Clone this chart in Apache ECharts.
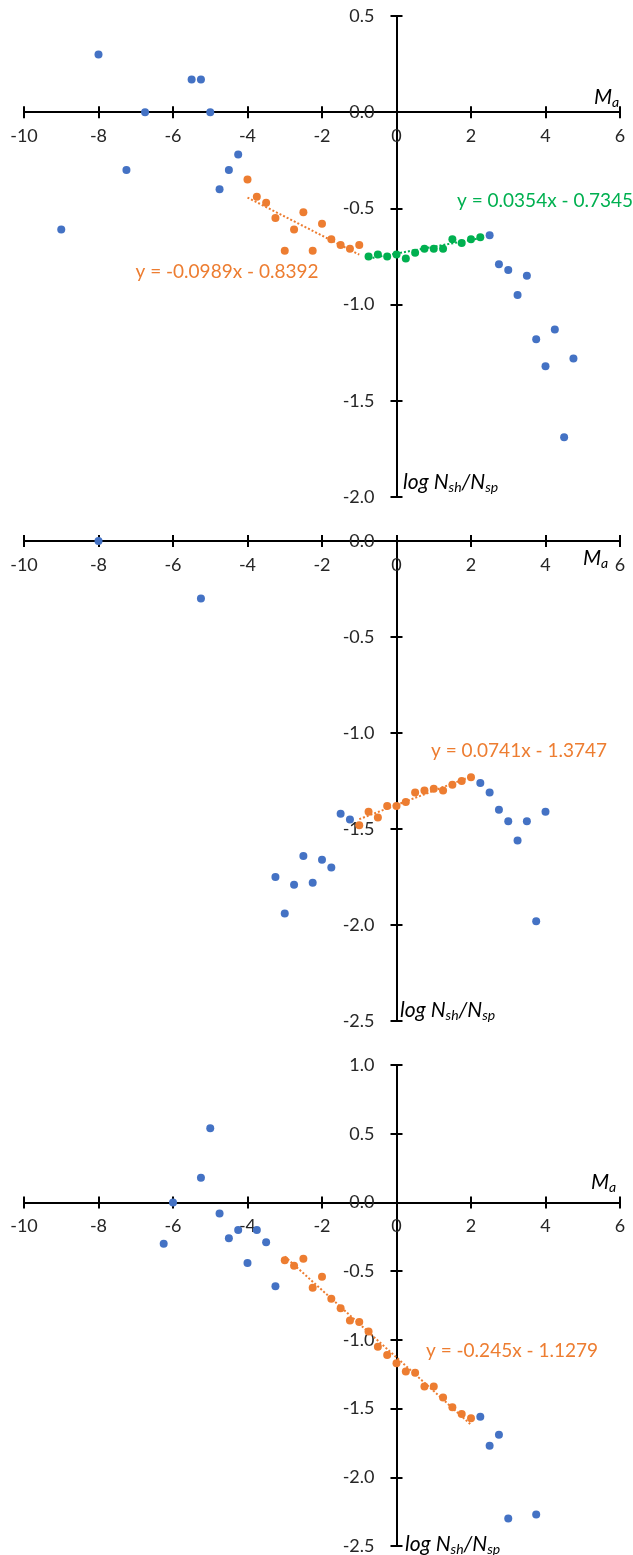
<!DOCTYPE html>
<html>
<head>
<meta charset="utf-8">
<script src="https://cdn.jsdelivr.net/npm/echarts@6/dist/echarts.min.js"></script>
<style>
  html, body { margin: 0; padding: 0; background: #ffffff; }
  #chart { width: 633px; height: 1555px; }
</style>
</head>
<body>
<div id="chart"></div>
<script>
// ---- Data: [Ma, log Nsh/Nsp] pairs for each panel ----
const p1Blue = [[-9, -0.61], [-8, 0.30], [-7.25, -0.30], [-6.75, 0.0], [-5.5, 0.17], [-5.25, 0.17], [-5, 0.0],
  [-4.75, -0.40], [-4.5, -0.30], [-4.25, -0.22], [2.5, -0.64], [2.75, -0.79], [3, -0.82], [3.25, -0.95],
  [3.5, -0.85], [3.75, -1.18], [4, -1.32], [4.25, -1.13], [4.5, -1.69], [4.75, -1.28]];
const p1Orange = [[-4, -0.35], [-3.75, -0.44], [-3.5, -0.47], [-3.25, -0.55], [-3, -0.72], [-2.75, -0.61],
  [-2.5, -0.52], [-2.25, -0.72], [-2, -0.58], [-1.75, -0.66], [-1.5, -0.69], [-1.25, -0.71], [-1, -0.69]];
const p1Green = [[-0.75, -0.75], [-0.5, -0.74], [-0.25, -0.75], [0, -0.74], [0.25, -0.76], [0.5, -0.73],
  [0.75, -0.71], [1, -0.71], [1.25, -0.71], [1.5, -0.66], [1.75, -0.68], [2, -0.66], [2.25, -0.65]];

const p2Blue = [[-8, 0.0], [-5.25, -0.30], [-3.25, -1.75], [-3, -1.94], [-2.75, -1.79], [-2.5, -1.64],
  [-2.25, -1.78], [-2, -1.66], [-1.75, -1.70], [-1.5, -1.42], [-1.25, -1.45], [2.25, -1.26], [2.5, -1.31],
  [2.75, -1.40], [3, -1.46], [3.25, -1.56], [3.5, -1.46], [3.75, -1.98], [4, -1.41]];
const p2Orange = [[-1, -1.48], [-0.75, -1.41], [-0.5, -1.44], [-0.25, -1.38], [0, -1.38], [0.25, -1.36],
  [0.5, -1.31], [0.75, -1.30], [1, -1.29], [1.25, -1.30], [1.5, -1.27], [1.75, -1.25], [2, -1.23]];

const p3Blue = [[-6.25, -0.30], [-6, 0.0], [-5.25, 0.18], [-5, 0.54], [-4.75, -0.08], [-4.5, -0.26],
  [-4.25, -0.20], [-4, -0.44], [-3.75, -0.20], [-3.5, -0.29], [-3.25, -0.61], [2.25, -1.56], [2.5, -1.77],
  [2.75, -1.69], [3, -2.30], [3.75, -2.27]];
const p3Orange = [[-3, -0.42], [-2.75, -0.46], [-2.5, -0.41], [-2.25, -0.62], [-2, -0.54], [-1.75, -0.70],
  [-1.5, -0.77], [-1.25, -0.86], [-1, -0.87], [-0.75, -0.94], [-0.5, -1.05], [-0.25, -1.11], [0, -1.17],
  [0.25, -1.23], [0.5, -1.24], [0.75, -1.34], [1, -1.34], [1.25, -1.42], [1.5, -1.49], [1.75, -1.54], [2, -1.57]];

// Linear trendlines: [slope, intercept]
const trend1Orange = [-0.0989, -0.8392];
const trend1Green = [0.0354, -0.7345];
const trend2Orange = [0.0741, -1.3747];
const trend3Orange = [-0.245, -1.1279];

// Axis ranges
const xRange = [-10, 6];
const xStep = 2;
const yRanges = [[-2, 0.5], [-2.5, 0], [-2.5, 1]];
const yStep = 0.5;

// ---- Styling / layout ----
const BLUE = '#4472C4', ORANGE = '#ED7D31', GREEN = '#00B050';
const FONT = 'Lato';
const TXT = '#262626';
const gridLeft = 24, gridWidth = 596;
const gridTops = [16, 541, 1065];
const gridHeights = [481, 480, 481];

const grids = gridTops.map((t, i) => ({
  left: gridLeft, top: t, width: gridWidth, height: gridHeights[i],
  containLabel: false, outerBoundsMode: 'none'
}));

// Axes cross at the origin: shift each axis from its grid edge to the zero line.
const xAxes = [], yAxes = [];
grids.forEach((g, gi) => {
  const yr = yRanges[gi];
  const xOffset = -g.height * (0 - yr[0]) / (yr[1] - yr[0]);
  const yOffset = -g.width * (0 - xRange[0]) / (xRange[1] - xRange[0]);
  // main axis: line, outward ticks, labels; aux axis: inward ticks so the ticks cross the line
  [false, true].forEach(aux => {
    xAxes.push({
      type: 'value', gridIndex: gi, min: xRange[0], max: xRange[1], interval: xStep,
      position: 'bottom', offset: xOffset,
      axisLine: { show: !aux, onZero: false, lineStyle: { color: '#000', width: 2 } },
      axisTick: { show: true, inside: aux, length: 6, lineStyle: { color: '#000', width: 2 } },
      axisLabel: { show: !aux, margin: 15, color: TXT, fontFamily: FONT, fontSize: 18 },
      splitLine: { show: false }
    });
    yAxes.push({
      type: 'value', gridIndex: gi, min: yr[0], max: yr[1], interval: yStep,
      position: 'left', offset: yOffset,
      axisLine: { show: !aux, onZero: false, lineStyle: { color: '#000', width: 2 } },
      axisTick: { show: true, inside: aux, length: 6, lineStyle: { color: '#000', width: 2 } },
      axisLabel: { show: !aux, margin: 22, color: TXT, fontFamily: FONT, fontSize: 18,
        formatter: v => v.toFixed(1) },
      splitLine: { show: false }
    });
  });
});

function scatter(data, color, gi) {
  return {
    type: 'scatter', xAxisIndex: gi * 2, yAxisIndex: gi * 2, data: data, symbolSize: 8,
    itemStyle: { color: color, opacity: 1 }, silent: true, z: 3
  };
}

function trend(coef, data, color, gi) {
  const xs = data.map(d => d[0]);
  const x0 = Math.min(...xs), x1 = Math.max(...xs);
  return {
    type: 'line', xAxisIndex: gi * 2, yAxisIndex: gi * 2, showSymbol: false, silent: true, z: 4,
    data: [[x0, coef[0] * x0 + coef[1]], [x1, coef[0] * x1 + coef[1]]],
    lineStyle: { color: color, width: 2, type: [2, 2] }
  };
}

function eqText(coef) {
  const b = coef[1];
  return 'y = ' + coef[0] + 'x ' + (b < 0 ? '-' : '+') + ' ' + Math.abs(b);
}

const series = [
  scatter(p1Blue, BLUE, 0), scatter(p1Orange, ORANGE, 0), scatter(p1Green, GREEN, 0),
  trend(trend1Orange, p1Orange, ORANGE, 0), trend(trend1Green, p1Green, GREEN, 0),
  scatter(p2Blue, BLUE, 1), scatter(p2Orange, ORANGE, 1), trend(trend2Orange, p2Orange, ORANGE, 1),
  scatter(p3Blue, BLUE, 2), scatter(p3Orange, ORANGE, 2), trend(trend3Orange, p3Orange, ORANGE, 2)
];

// Equation labels
const eqLabels = [
  { coef: trend1Orange, color: ORANGE, x: 227, y: 272 },
  { coef: trend1Green, color: GREEN, x: 545, y: 201 },
  { coef: trend2Orange, color: ORANGE, x: 519, y: 751 },
  { coef: trend3Orange, color: ORANGE, x: 512, y: 1351 }
];

// Axis titles (italic with subscripts)
const richName = {
  i: { fontFamily: FONT, fontStyle: 'italic', fontSize: 21, color: '#000', lineHeight: 22 },
  s: { fontFamily: FONT, fontStyle: 'italic', fontSize: 14, color: '#000', lineHeight: 15, padding: [11, 0, 0, 0] }
};
const xNames = [{ x: 594, y: 97 }, { x: 583, y: 558 }, { x: 591, y: 1182 }];
const yNames = [{ x: 403, y: 482 }, { x: 400, y: 1010 }, { x: 405, y: 1544 }];

const graphic = [];
eqLabels.forEach(e => graphic.push({
  type: 'text', x: e.x, y: e.y, silent: true, z: 10,
  style: { text: eqText(e.coef), fill: e.color, font: '19px ' + FONT, align: 'center', verticalAlign: 'middle' }
}));
xNames.forEach(p => graphic.push({
  type: 'text', x: p.x, y: p.y, silent: true, z: 10,
  style: { text: '{i|M}{s|a}', rich: richName, align: 'left', verticalAlign: 'middle' }
}));
yNames.forEach(p => graphic.push({
  type: 'text', x: p.x, y: p.y, silent: true, z: 10,
  style: { text: '{i|log N}{s|sh}{i|/N}{s|sp}', rich: richName, align: 'left', verticalAlign: 'middle' }
}));

const chart = echarts.init(document.getElementById('chart'), null, { renderer: 'canvas' });
chart.setOption({
  animation: false,
  backgroundColor: '#ffffff',
  grid: grids,
  xAxis: xAxes,
  yAxis: yAxes,
  series: series,
  graphic: graphic
});
</script>
</body>
</html>
